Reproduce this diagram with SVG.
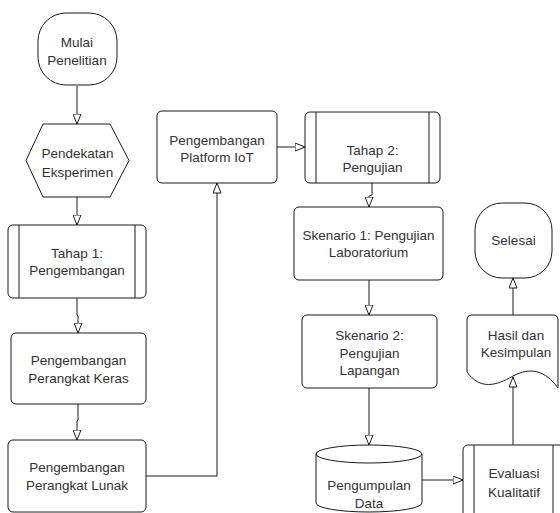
<svg xmlns="http://www.w3.org/2000/svg" width="560" height="513" viewBox="0 0 560 513">
<style>
.s{fill:#fff;stroke:#1a1a1a;stroke-width:1}
.l{fill:none;stroke:#1a1a1a;stroke-width:1}
.t{font-family:"Liberation Sans",Arial,sans-serif;font-size:13.5px;fill:#333;text-anchor:middle}
</style>
<defs>
<marker id="a" markerWidth="11" markerHeight="9" refX="10.5" refY="4.5" orient="auto" markerUnits="userSpaceOnUse" viewBox="0 0 11 9">
<path d="M0.5,0.5 L10.5,4.5 L0.5,8.5 Z" fill="#fff" stroke="#1a1a1a" stroke-width="1"/>
</marker>
</defs>
<rect width="560" height="513" fill="#fff"/>
<g id="connectors">
<path class="l" d="M77,86 V124" marker-end="url(#a)"/>
<path class="l" d="M77,197 V225" marker-end="url(#a)"/>
<path class="l" d="M77,298 V315 L78,316 V333" marker-end="url(#a)"/>
<path class="l" d="M78,404 V420 L77,421 V440" marker-end="url(#a)"/>
<path class="l" d="M146,476 H217 V183" marker-end="url(#a)"/>
<path class="l" d="M277,147 H305" marker-end="url(#a)"/>
<path class="l" d="M372,183 V195 L369,196 V207" marker-end="url(#a)"/>
<path class="l" d="M369,280 V315" marker-end="url(#a)"/>
<path class="l" d="M369,388 V445" marker-end="url(#a)"/>
<path class="l" d="M422,480 H463" marker-end="url(#a)"/>
<path class="l" d="M513,445 V377" marker-end="url(#a)"/>
<path class="l" d="M513,315 V278" marker-end="url(#a)"/>
</g>
<g id="mulai">
<rect class="s" x="38" y="13" width="79" height="72" rx="28"/>
<text class="t" x="77" y="47">Mulai</text>
<text class="t" x="77" y="65">Penelitian</text>
</g>
<g id="pendekatan">
<polygon class="s" points="43,124 110,124 129,160.5 110,197 43,197 26,160.5"/>
<text class="t" x="77.5" y="158">Pendekatan</text>
<text class="t" x="77.5" y="177">Eksperimen</text>
</g>
<g id="tahap1">
<rect class="s" x="8" y="225" width="138" height="73" rx="5"/>
<path class="l" d="M19,225 V298 M135,225 V298"/>
<text class="t" x="77" y="258">Tahap 1:</text>
<text class="t" x="77" y="275">Pengembangan</text>
</g>
<g id="keras">
<rect class="s" x="11" y="333" width="135" height="71" rx="5"/>
<text class="t" x="78.5" y="365">Pengembangan</text>
<text class="t" x="78.5" y="383">Perangkat Keras</text>
</g>
<g id="lunak">
<rect class="s" x="8" y="440" width="138" height="72" rx="5"/>
<text class="t" x="77" y="472">Pengembangan</text>
<text class="t" x="77" y="490">Perangkat Lunak</text>
</g>
<g id="platform">
<rect class="s" x="157" y="111" width="120" height="72" rx="5"/>
<text class="t" x="217" y="145">Pengembangan</text>
<text class="t" x="217" y="162">Platform IoT</text>
</g>
<g id="tahap2">
<rect class="s" x="305" y="112" width="135" height="71" rx="5"/>
<path class="l" d="M316,112 V183 M429,112 V183"/>
<text class="t" x="372.5" y="155">Tahap 2:</text>
<text class="t" x="372.5" y="172">Pengujian</text>
</g>
<g id="skenario1">
<rect class="s" x="294" y="207" width="149" height="73" rx="5"/>
<text class="t" x="368.5" y="240">Skenario 1: Pengujian</text>
<text class="t" x="368.5" y="257">Laboratorium</text>
</g>
<g id="skenario2">
<rect class="s" x="302" y="315" width="135" height="73" rx="5"/>
<text class="t" x="369.5" y="340">Skenario 2:</text>
<text class="t" x="369.5" y="358">Pengujian</text>
<text class="t" x="369.5" y="375">Lapangan</text>
</g>
<g id="pengumpulan">
<path class="s" d="M316,454 A53,9 0 0 1 422,454 V503 A53,9 0 0 1 316,503 Z"/>
<path class="l" d="M316,454 A53,9 0 0 0 422,454"/>
<text class="t" x="369" y="490">Pengumpulan</text>
<text class="t" x="369" y="508">Data</text>
</g>
<g id="evaluasi">
<rect class="s" x="463" y="445" width="101" height="80" rx="5"/>
<path class="l" d="M474,445 V525 M553,445 V525"/>
<text class="t" x="514" y="478">Evaluasi</text>
<text class="t" x="514" y="497">Kualitatif</text>
</g>
<g id="hasil">
<path class="s" d="M472,315 H553 Q558,315 558,320 V388 C545,370 530,367 513,376 C496,386 480,390 467,372 V320 Q467,315 472,315 Z"/>
<text class="t" x="516" y="340">Hasil dan</text>
<text class="t" x="516" y="357">Kesimpulan</text>
</g>
<g id="selesai">
<rect class="s" x="475" y="203" width="77" height="75" rx="27"/>
<text class="t" x="513.5" y="244.5">Selesai</text>
</g>
</svg>
